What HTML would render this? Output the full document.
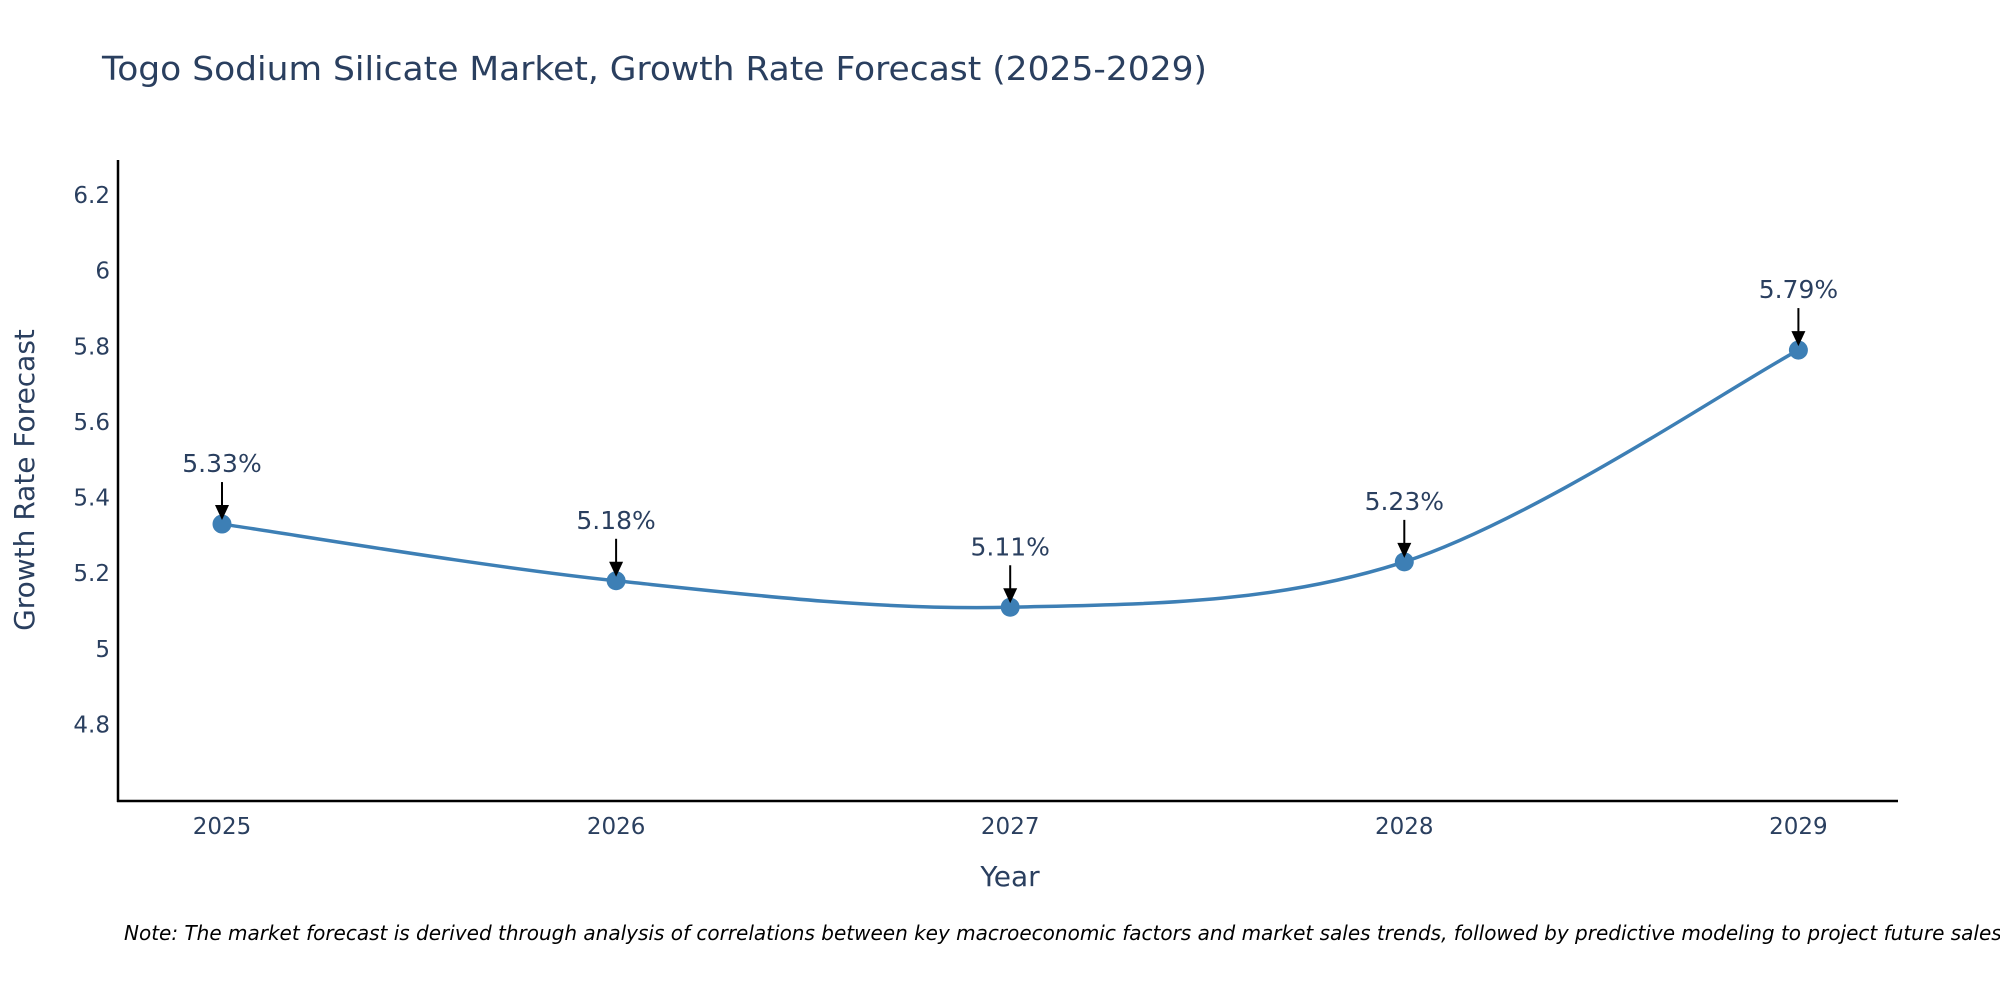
<!DOCTYPE html>
<html><head><meta charset="utf-8"><style>
html,body{margin:0;padding:0;background:#fff;}
svg{display:block;font-family:"DejaVu Sans","Liberation Sans",sans-serif;}
</style></head><body>
<svg id="chart" width="2000" height="1000" viewBox="0 0 2000 1000">
<text x="102" y="80" font-size="33" fill="#2a3f5f" textLength="1105" lengthAdjust="spacingAndGlyphs">Togo Sodium Silicate Market, Growth Rate Forecast (2025-2029)</text>
<g id="yticks"></g>
<g id="xticks"></g>
<line x1="118" y1="160" x2="118" y2="802" stroke="#000" stroke-width="2.5"/>
<line x1="117" y1="801" x2="1898" y2="801" stroke="#000" stroke-width="2.5"/>
<text transform="translate(34,480) rotate(-90)" text-anchor="middle" font-size="28" fill="#2a3f5f">Growth Rate Forecast</text>
<text x="1010" y="886" text-anchor="middle" font-size="28" fill="#2a3f5f">Year</text>
<path id="line" fill="none" stroke="#3d7fb5" stroke-width="3.5"/>
<g id="points"></g>
<g id="annots"></g>
<text x="124" y="940" font-size="20" font-style="italic" fill="#000">Note: The market forecast is derived through analysis of correlations between key macroeconomic factors and market sales trends, followed by predictive modeling to project future sales.</text>
</svg>
<script>
const years = [2025, 2026, 2027, 2028, 2029];
const values = [5.33, 5.18, 5.11, 5.23, 5.79];
const labels = ["5.33%", "5.18%", "5.11%", "5.23%", "5.79%"];
const yTickVals = [4.8, 5, 5.2, 5.4, 5.6, 5.8, 6, 6.2];
const yTickLabels = ["4.8", "5", "5.2", "5.4", "5.6", "5.8", "6", "6.2"];

const NS = "http://www.w3.org/2000/svg";
function xs(v){ return 222 + (v - 2025) * 394.1; }
function ys(v){ return 724.5 - (v - 4.8) * 378.2; }
function mk(tag, attrs){ const e = document.createElementNS(NS, tag); for (const k in attrs) e.setAttribute(k, attrs[k]); return e; }

const yt = document.getElementById('yticks');
yTickVals.forEach((v, i) => {
  const t = mk('text', {x: 110, y: ys(v) + 8, 'text-anchor': 'end', 'font-size': 23, fill: '#2a3f5f'});
  
  
  t.textContent = yTickLabels[i];
  yt.appendChild(t);
});
const xt = document.getElementById('xticks');
years.forEach(y => {
  const t = mk('text', {x: xs(y), y: 834, 'text-anchor': 'middle', 'font-size': 23, fill: '#2a3f5f'});
  
  
  t.textContent = String(y);
  xt.appendChild(t);
});

const P = years.map((y, i) => [xs(y), ys(values[i])]);
let d = 'M' + P[0][0] + ',' + P[0][1];
const s = 1/6;
for (let i = 0; i < P.length - 1; i++) {
  const p0 = P[Math.max(0, i-1)], p1 = P[i], p2 = P[i+1], p3 = P[Math.min(P.length-1, i+2)];
  const c1 = [p1[0] + (p2[0]-p0[0])*s, p1[1] + (p2[1]-p0[1])*s];
  const c2 = [p2[0] - (p3[0]-p1[0])*s, p2[1] - (p3[1]-p1[1])*s];
  d += ' C' + c1[0] + ',' + c1[1] + ' ' + c2[0] + ',' + c2[1] + ' ' + p2[0] + ',' + p2[1];
}
document.getElementById('line').setAttribute('d', d);

const pts = document.getElementById('points');
const an = document.getElementById('annots');
P.forEach((p, i) => {
  const c = mk('circle', {cx: p[0], cy: p[1], r: 9.5, fill: '#3d7fb5'});
  
  
  pts.appendChild(c);
  const l = mk('line', {x1: p[0], y1: p[1] - 42, x2: p[0], y2: p[1] - 16, stroke: '#000', 'stroke-width': 2});
  
  
  an.appendChild(l);
  const h = mk('polygon', {points: (p[0]-7)+','+(p[1]-19)+' '+(p[0]+7)+','+(p[1]-19)+' '+p[0]+','+(p[1]-4), fill: '#000'});
  
  
  an.appendChild(h);
  const t = mk('text', {x: p[0], y: p[1] - 52, 'text-anchor': 'middle', 'font-size': 25, fill: '#2a3f5f'});
  
  
  t.textContent = labels[i];
  an.appendChild(t);
});
</script>
</body></html>
